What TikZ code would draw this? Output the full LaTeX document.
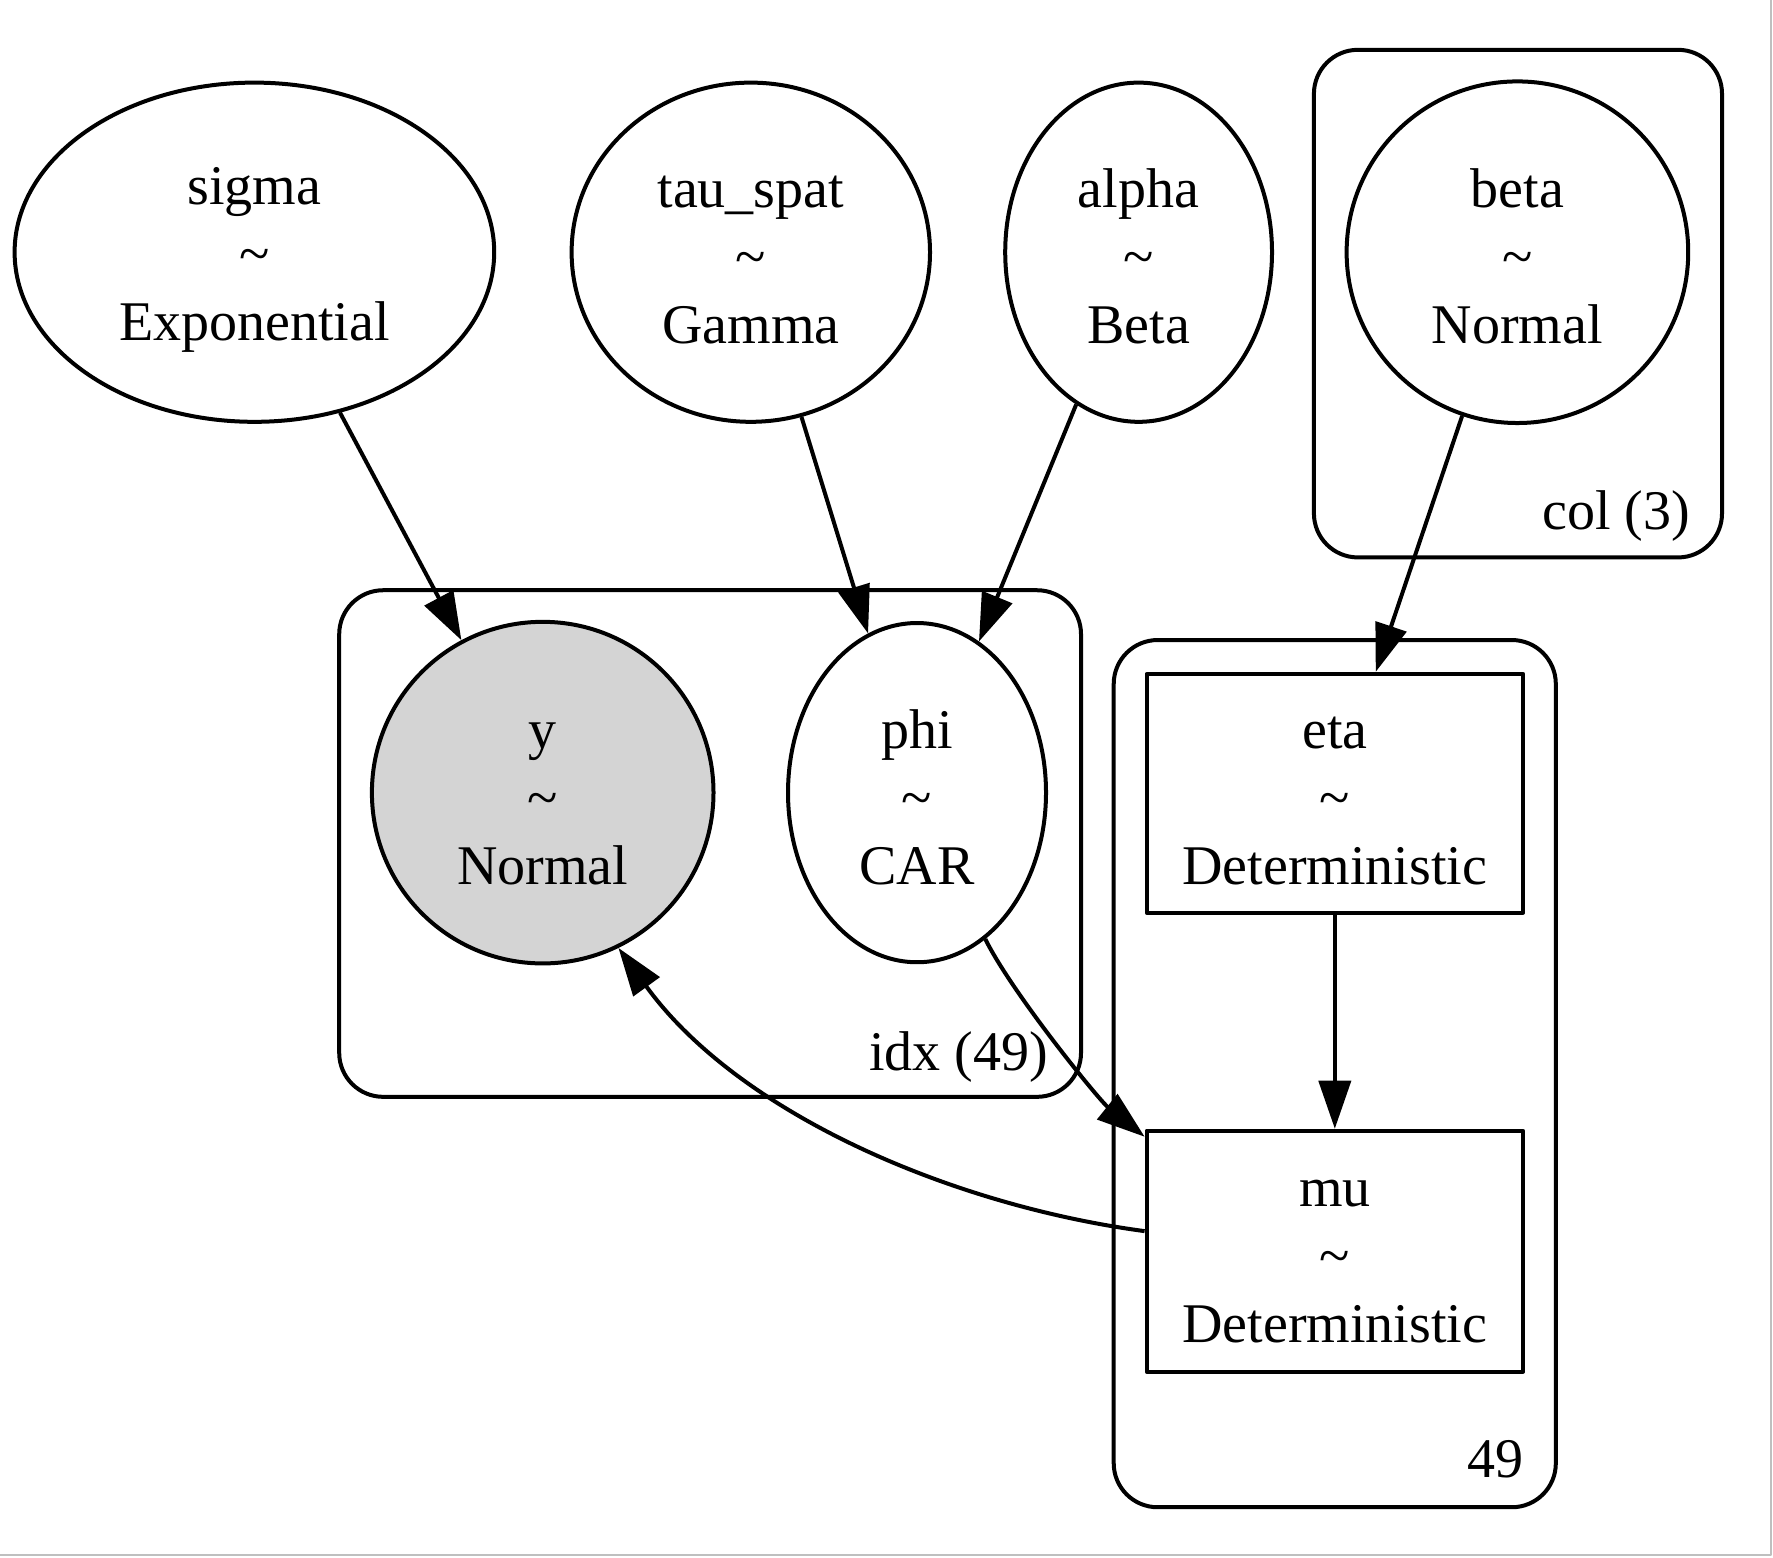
\documentclass[tikz,border=0pt]{standalone}
\usepackage{fontspec}
\setmainfont{Liberation Serif}
\usetikzlibrary{shapes.geometric,arrows.meta}
\newcommand{\gvs}{\rule[-1.5pt]{0pt}{14.7pt}}
\newcommand{\dist}[2]{\gvs #1\\\textasciitilde\\#2\gvs}

\begin{document}
\begin{tikzpicture}[x=0.25pt, y=-0.25pt, line width=1pt, line join=round,
    >={Triangle[length=12pt,width=8pt]},
    txt/.style={font=\fontsize{14}{17}\selectfont},
    rv/.style={txt, draw, ellipse, inner sep=0pt, align=center},
    obs/.style={rv, circle, fill=black!17},
    det/.style={txt, draw, rectangle, inner sep=0pt, align=center},
    plate/.style={draw, rounded corners=11pt},
    platelab/.style={txt, anchor=base east, inner sep=0pt}]
\useasboundingbox (0,0) rectangle (1773,1557);
\draw[black!25, line width=0.5pt] (1771,0) -- (1771,1555) -- (0,1555);
% plates
\draw[plate] (1313.9,49.8) rectangle (1722,557.4);
\draw[plate] (339.2,590.2) rectangle (1081,1096.8);
\draw[plate] (1113.7,640) rectangle (1555.8,1507.2);
\node[platelab] (colplate) at (1692,529) {col (3)};
\node[platelab] (idxplate) at (1050,1070) {idx (49)};
\node[platelab] (nplate) at (1525,1477) {49};
% free variables
\node[rv, minimum width=119.9pt, minimum height=84.8pt] (sigma) at (254.4,252.2) {\dist{sigma}{Exponential}};
\node[rv, minimum width=89.6pt, minimum height=84.8pt] (tau) at (750.8,252.2) {\dist{tau\_spat}{Gamma}};
\node[rv, minimum width=66.7pt, minimum height=84.8pt] (alpha) at (1138.6,252.2) {\dist{alpha}{Beta}};
\node[rv, circle, minimum size=85.4pt] (beta) at (1517.4,252.2) {\dist{beta}{Normal}};
\node[obs, minimum size=85.4pt] (y) at (542.7,792.6) {\dist{y}{Normal}};
\node[rv, minimum width=64.5pt, minimum height=84.8pt] (phi) at (917,792.6) {\dist{phi}{CAR}};
\node[det, minimum width=94.1pt, minimum height=59.7pt] (eta) at (1334.8,793.2) {\dist{eta}{Deterministic}};
\node[det, minimum width=94.1pt, minimum height=60.2pt] (mu) at (1334.8,1251.1) {\dist{mu}{Deterministic}};
% edges
\draw[->] (sigma) -- (y);
\draw[->] (tau) -- (phi);
\draw[->] (alpha) -- (phi);
\draw[->] (beta) -- (eta);
\draw[->] (eta) -- (mu);
\draw[->] (phi.-65) .. controls (1012,993) and (1099,1100) .. ([yshift=-2pt]mu.north west);
\draw[->] ([yshift=5pt]mu.west) .. controls (950,1205) and (738,1113) .. (y.-64);
\end{tikzpicture}
\end{document}
